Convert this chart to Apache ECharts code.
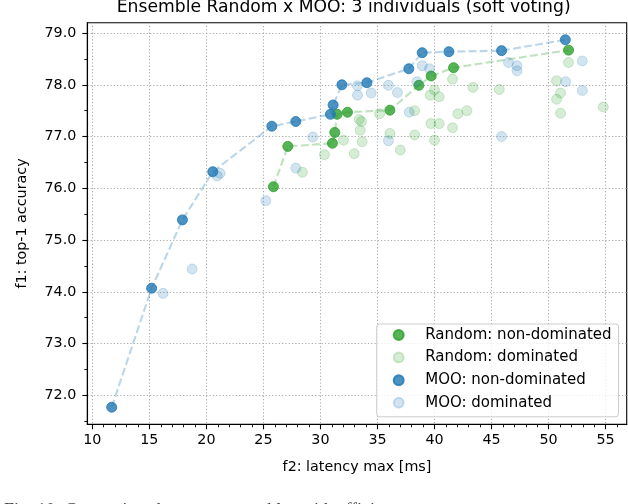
<!DOCTYPE html>
<html>
<head>
<meta charset="utf-8">
<script src="https://cdn.jsdelivr.net/npm/echarts@6/dist/echarts.min.js"></script>
<style>
html,body{margin:0;padding:0;background:#fff;}
#c{width:628px;height:504px;}
</style>
</head>
<body>
<div id="c"></div>
<script>
// ---- data ----
const randomNonDominated = [[25.88,76.03],[27.14,76.81],[31.05,76.87],[31.26,77.08],[31.46,77.43],[32.37,77.47],[36.09,77.51],[38.63,77.99],[39.71,78.17],[41.67,78.33],[51.75,78.67]];
const randomDominated = [[28.42,76.31],[30.35,76.65],[32.02,76.93],[32.96,76.67],[33.66,76.9],[37.0,76.74],[33.4,77.33],[33.6,77.29],[33.48,77.12],[35.18,77.44],[36.09,77.06],[38.25,77.5],[38.25,77.03],[40.0,77.9],[39.62,77.8],[40.41,77.77],[39.68,77.25],[40.41,77.25],[40.0,76.93],[41.58,78.11],[43.37,77.95],[45.68,77.91],[42.05,77.44],[42.84,77.5],[41.58,77.17],[50.7,78.08],[51.75,78.43],[51.05,77.84],[50.7,77.72],[51.05,77.45],[54.8,77.57]];
const mooNonDominated = [[11.7,71.77],[15.2,74.07],[17.9,75.39],[20.56,76.32],[25.74,77.2],[27.84,77.29],[30.88,77.43],[31.11,77.61],[31.88,78.0],[34.07,78.04],[37.75,78.31],[38.92,78.62],[41.26,78.64],[45.88,78.66],[51.47,78.87]];
const mooDominated = [[16.2,73.97],[18.75,74.44],[20.95,76.24],[21.2,76.29],[25.21,75.76],[27.84,76.39],[29.33,76.99],[33.25,77.98],[33.25,77.8],[34.45,77.84],[35.96,77.99],[36.75,77.85],[37.78,77.47],[38.92,78.37],[38.46,78.06],[39.56,78.31],[35.96,76.92],[46.49,78.43],[47.23,78.37],[47.23,78.27],[52.96,78.46],[51.49,78.06],[52.96,77.89],[45.88,77.0]];

const xTicks = [10,15,20,25,30,35,40,45,50,55];
const xMinorTicks = [10,11,12,13,14,15,16,17,18,19,20,21,22,23,24,25,26,27,28,29,30,31,32,33,34,35,36,37,38,39,40,41,42,43,44,45,46,47,48,49,50,51,52,53,54,55,56];
const yTicks = [72,73,74,75,76,77,78,79];
const yMinorTicks = [71.5,72,72.5,73,73.5,74,74.5,75,75.5,76,76.5,77,77.5,78,78.5,79];

const titleText = 'Ensemble Random x MOO: 3 individuals (soft voting)';
const xName = 'f2: latency max [ms]';
const yName = 'f1: top-1 accuracy';
const seriesNames = ['Random: non-dominated','Random: dominated','MOO: non-dominated','MOO: dominated'];
const captionText = 'Fig. 10: Comparison between ensembles with efficient';

const BLUE = '#1f77b4', GREEN = '#2ca02c';
const FONT = 'DejaVu Sans';
const grid = {left: 87.3, top: 22.7, width: 539.4, height: 401.6};
const xMin = 9.56, xMax = 56.85, yMin = 71.44, yMax = 79.2;

const chart = echarts.init(document.getElementById('c'), null, {renderer: 'canvas'});

const splitStyle = {show: true, lineStyle: {color: '#b0b0b0', width: 1.1, type: [1.3, 2]}};
const axisLine = {show: true, lineStyle: {color: '#000', width: 1.1}};
const labelStyle = {color: '#000', fontFamily: FONT, fontSize: 14.3};

function scatter(name, data, color, opacity) {
  return {
    name, type: 'scatter', data, symbol: 'circle', symbolSize: 10,
    itemStyle: {color, borderColor: color, borderWidth: 1, opacity},
    emphasis: {disabled: true}, z: 3
  };
}
function front(data, color) {
  return {
    type: 'line', data, symbol: 'none', showSymbol: false, silent: true,
    lineStyle: {color, width: 2.1, type: [7.8, 3.4], opacity: 0.3}, z: 2
  };
}

chart.setOption({
  animation: false,
  backgroundColor: '#fff',
  title: {
    text: titleText, left: 116.7, top: -0.5, padding: 0,
    textStyle: {fontFamily: FONT, fontSize: 17.2, fontWeight: 'normal', color: '#000'}
  },
  grid: Object.assign({show: true, borderColor: '#000', borderWidth: 1.1, backgroundColor: 'transparent'}, grid),
  xAxis: [
    {
      type: 'value', min: xMin, max: xMax, position: 'bottom',
      name: xName, nameLocation: 'middle', nameGap: 36,
      nameTextStyle: {color: '#000', fontFamily: FONT, fontSize: 14.3},
      axisLine,
      axisTick: {show: true, length: 5, lineStyle: {color: '#000', width: 1.1}, customValues: xTicks},
      axisLabel: Object.assign({margin: 9, customValues: xTicks, formatter: v => String(v)}, labelStyle),
      splitLine: splitStyle
    },
    {
      type: 'value', min: xMin, max: xMax, position: 'bottom', gridIndex: 0,
      axisLine: {show: false},
      axisTick: {show: true, length: 3, lineStyle: {color: '#000', width: 0.9}, customValues: xMinorTicks},
      axisLabel: {show: false},
      splitLine: {show: false}
    }
  ],
  yAxis: [
    {
      type: 'value', min: yMin, max: yMax, position: 'left',
      name: yName, nameLocation: 'middle', nameGap: 58,
      nameTextStyle: {color: '#000', fontFamily: FONT, fontSize: 14.3},
      axisLine,
      axisTick: {show: true, length: 5, lineStyle: {color: '#000', width: 1.1}, customValues: yTicks},
      axisLabel: Object.assign({margin: 11, customValues: yTicks, formatter: v => v.toFixed(1)}, labelStyle),
      splitLine: splitStyle
    },
    {
      type: 'value', min: yMin, max: yMax, position: 'left', gridIndex: 0,
      axisLine: {show: false},
      axisTick: {show: true, length: 3, lineStyle: {color: '#000', width: 0.9}, customValues: yMinorTicks},
      axisLabel: {show: false},
      splitLine: {show: false}
    }
  ],
  legend: {
    data: seriesNames, orient: 'vertical', left: 376.7, top: 324,
    padding: [3, 7, 6, 16], itemGap: 6.6, itemWidth: 43, itemHeight: 10, icon: 'circle',
    textStyle: {fontFamily: FONT, fontSize: 15, color: '#000', lineHeight: 16},
    backgroundColor: 'rgba(255,255,255,0.8)', borderColor: '#cccccc', borderWidth: 1, borderRadius: 3,
    selectedMode: false
  },
  graphic: [{
    type: 'text', left: 4, top: 502, silent: true,
    style: {text: captionText, fontFamily: 'Liberation Serif', fontSize: 18, fill: '#444'}
  }],
  series: [
    front(randomNonDominated, GREEN),
    front(mooNonDominated, BLUE),
    scatter(seriesNames[0], randomNonDominated, GREEN, 0.8),
    scatter(seriesNames[1], randomDominated, GREEN, 0.2),
    scatter(seriesNames[2], mooNonDominated, BLUE, 0.8),
    scatter(seriesNames[3], mooDominated, BLUE, 0.2)
  ]
});
</script>
</body>
</html>
